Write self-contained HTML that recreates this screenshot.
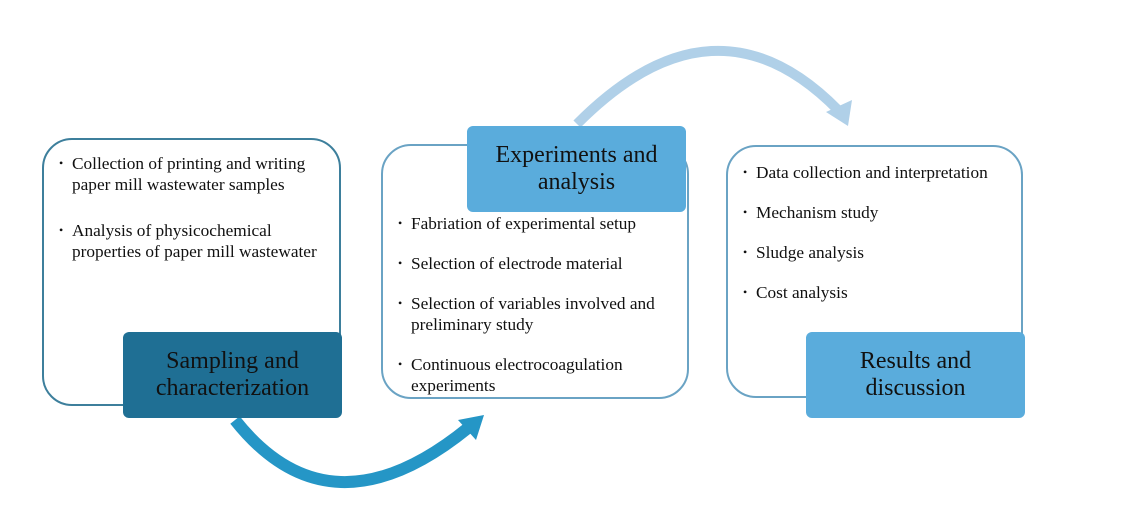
<!DOCTYPE html>
<html><head><style>
body{margin:0;width:1125px;height:520px;background:#fff;position:relative;overflow:hidden;font-family:"Liberation Serif",serif;}
.o{position:absolute;border:2px solid #6aa3c4;border-radius:30px;background:#fff;box-sizing:border-box;}
.h{position:absolute;border-radius:6px;text-align:center;font-size:24px;line-height:27px;color:#111;display:flex;align-items:center;justify-content:center;}
.t{position:absolute;font-size:17.3px;line-height:21px;color:#111;}
.t div{position:relative;padding-left:13px;white-space:nowrap;}
.t div:before{content:"•";position:absolute;left:0;font-size:12px;}
</style></head><body>
<svg style="position:absolute;left:0;top:0" width="1125" height="520">
<path d="M577 124 Q715 -15 838 110" fill="none" stroke="#b0d0e8" stroke-width="10"/>
<polygon points="826,112 852,100 848,126" fill="#b0d0e8"/>
<path d="M235 420 Q330 540 468 428" fill="none" stroke="#2596c6" stroke-width="12"/>
<polygon points="458,420 484,415 476,440" fill="#2596c6"/>
</svg>
<div class="o" style="left:42px;top:138px;width:299px;height:268px;border-color:#3d7f9c"></div>
<div class="o" style="left:381px;top:144px;width:308px;height:255px"></div>
<div class="o" style="left:726px;top:145px;width:297px;height:253px"></div>
<div class="h" style="left:123px;top:332px;width:219px;height:86px;background:#1f6f94">Sampling and<br>characterization</div>
<div class="h" style="left:467px;top:126px;width:219px;height:86px;background:#5aacdc">Experiments and<br>analysis</div>
<div class="h" style="left:806px;top:332px;width:219px;height:86px;background:#5aacdc">Results and<br>discussion</div>
<div class="t" style="left:59px;top:153px;width:290px">
<div>Collection of printing and writing<br>paper mill wastewater samples</div>
<div style="margin-top:25px">Analysis of physicochemical<br>properties of paper mill wastewater</div></div>
<div class="t" style="left:398px;top:213px;width:290px">
<div>Fabriation of experimental setup</div>
<div style="margin-top:19px">Selection of electrode material</div>
<div style="margin-top:19px">Selection of variables involved and<br>preliminary study</div>
<div style="margin-top:19px">Continuous electrocoagulation<br>experiments</div></div>
<div class="t" style="left:743px;top:162px;width:290px">
<div>Data collection and interpretation</div>
<div style="margin-top:19px">Mechanism study</div>
<div style="margin-top:19px">Sludge analysis</div>
<div style="margin-top:19px">Cost analysis</div></div>
</body></html>
